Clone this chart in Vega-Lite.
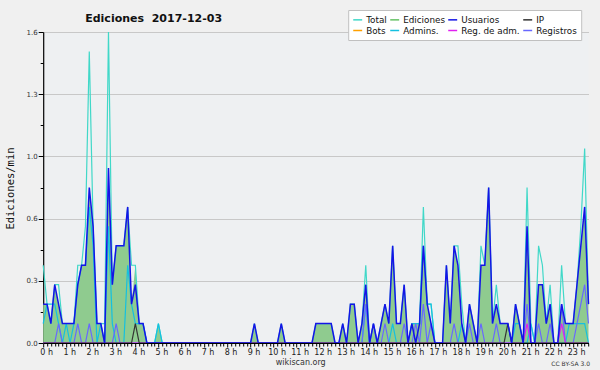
{
  "$schema": "https://vega.github.io/schema/vega-lite/v6.json",
  "width": 545.3,
  "height": 311,
  "autosize": {"type": "none"},
  "padding": {"left": 43.2, "top": 32, "right": 11.5, "bottom": 27},
  "background": "#f0f0f0",
  "config": {"view": {"fill": "#eef0f2", "stroke": null}, "font": "DejaVu Sans"},
  "title": {"text": "Ediciones\u00a0 2017-12-03", "anchor": "start", "frame": "group", "dx": 42, "offset": 0, "dy": 23, "baseline": "alphabetic", "font": "DejaVu Sans", "fontSize": 11, "fontWeight": "bold", "color": "#111111"},
  "data": {"values": [
    {"m":0,"T":0.4,"E":0.2,"U":0.2,"A":0.1,"R":0,"IP":0,"RA":0},
    {"m":10,"T":0.2,"E":0.2,"U":0.2,"A":0.2,"R":0,"IP":0,"RA":0},
    {"m":20,"T":0.1,"E":0.1,"U":0.1,"A":0.2,"R":0,"IP":0,"RA":0},
    {"m":30,"T":0.3,"E":0.3,"U":0.3,"A":0.2,"R":0,"IP":0,"RA":0},
    {"m":40,"T":0.3,"E":0.2,"U":0.2,"A":0.1,"R":0.1,"IP":0,"RA":0},
    {"m":50,"T":0.1,"E":0.1,"U":0.1,"A":0,"R":0,"IP":0,"RA":0},
    {"m":60,"T":0.1,"E":0.1,"U":0.1,"A":0.1,"R":0,"IP":0,"RA":0},
    {"m":70,"T":0.1,"E":0.1,"U":0.1,"A":0,"R":0,"IP":0,"RA":0},
    {"m":80,"T":0.1,"E":0.1,"U":0.1,"A":0.1,"R":0,"IP":0,"RA":0},
    {"m":90,"T":0.4,"E":0.3,"U":0.3,"A":0.3,"R":0.1,"IP":0,"RA":0},
    {"m":100,"T":0.4,"E":0.4,"U":0.4,"A":0.4,"R":0,"IP":0,"RA":0},
    {"m":110,"T":0.6,"E":0.4,"U":0.4,"A":0.4,"R":0,"IP":0,"RA":0},
    {"m":120,"T":1.5,"E":0.8,"U":0.8,"A":0.7,"R":0.1,"IP":0,"RA":0},
    {"m":130,"T":0.6,"E":0.6,"U":0.6,"A":0.5,"R":0,"IP":0,"RA":0},
    {"m":140,"T":0.1,"E":0.1,"U":0.1,"A":0,"R":0,"IP":0,"RA":0},
    {"m":150,"T":0.1,"E":0.1,"U":0.1,"A":0.1,"R":0,"IP":0,"RA":0},
    {"m":160,"T":0.1,"E":0,"U":0,"A":0,"R":0,"IP":0,"RA":0},
    {"m":170,"T":1.6,"E":0.9,"U":0.9,"A":0.6,"R":0,"IP":0,"RA":0},
    {"m":180,"T":0.3,"E":0.3,"U":0.3,"A":0.1,"R":0,"IP":0,"RA":0},
    {"m":190,"T":0.5,"E":0.5,"U":0.5,"A":0,"R":0.1,"IP":0,"RA":0},
    {"m":200,"T":0.5,"E":0.5,"U":0.5,"A":0,"R":0,"IP":0,"RA":0},
    {"m":210,"T":0.5,"E":0.5,"U":0.5,"A":0,"R":0,"IP":0,"RA":0},
    {"m":220,"T":0.7,"E":0.7,"U":0.7,"A":0.4,"R":0,"IP":0,"RA":0},
    {"m":230,"T":0.4,"E":0.2,"U":0.2,"A":0.2,"R":0,"IP":0,"RA":0},
    {"m":240,"T":0.4,"E":0.4,"U":0.3,"A":0.1,"R":0,"IP":0.1,"RA":0},
    {"m":250,"T":0.1,"E":0.1,"U":0.1,"A":0.1,"R":0,"IP":0,"RA":0},
    {"m":260,"T":0.1,"E":0.1,"U":0.1,"A":0.1,"R":0,"IP":0,"RA":0},
    {"m":270,"T":0,"E":0,"U":0,"A":0,"R":0,"IP":0,"RA":0},
    {"m":280,"T":0,"E":0,"U":0,"A":0,"R":0,"IP":0,"RA":0},
    {"m":290,"T":0,"E":0,"U":0,"A":0,"R":0,"IP":0,"RA":0},
    {"m":300,"T":0.1,"E":0.1,"U":0,"A":0.1,"R":0,"IP":0,"RA":0},
    {"m":310,"T":0,"E":0,"U":0,"A":0,"R":0,"IP":0,"RA":0},
    {"m":320,"T":0,"E":0,"U":0,"A":0,"R":0,"IP":0,"RA":0},
    {"m":330,"T":0,"E":0,"U":0,"A":0,"R":0,"IP":0,"RA":0},
    {"m":340,"T":0,"E":0,"U":0,"A":0,"R":0,"IP":0,"RA":0},
    {"m":350,"T":0,"E":0,"U":0,"A":0,"R":0,"IP":0,"RA":0},
    {"m":360,"T":0,"E":0,"U":0,"A":0,"R":0,"IP":0,"RA":0},
    {"m":370,"T":0,"E":0,"U":0,"A":0,"R":0,"IP":0,"RA":0},
    {"m":380,"T":0,"E":0,"U":0,"A":0,"R":0,"IP":0,"RA":0},
    {"m":390,"T":0,"E":0,"U":0,"A":0,"R":0,"IP":0,"RA":0},
    {"m":400,"T":0,"E":0,"U":0,"A":0,"R":0,"IP":0,"RA":0},
    {"m":410,"T":0,"E":0,"U":0,"A":0,"R":0,"IP":0,"RA":0},
    {"m":420,"T":0,"E":0,"U":0,"A":0,"R":0,"IP":0,"RA":0},
    {"m":430,"T":0,"E":0,"U":0,"A":0,"R":0,"IP":0,"RA":0},
    {"m":440,"T":0,"E":0,"U":0,"A":0,"R":0,"IP":0,"RA":0},
    {"m":450,"T":0,"E":0,"U":0,"A":0,"R":0,"IP":0,"RA":0},
    {"m":460,"T":0,"E":0,"U":0,"A":0,"R":0,"IP":0,"RA":0},
    {"m":470,"T":0,"E":0,"U":0,"A":0,"R":0,"IP":0,"RA":0},
    {"m":480,"T":0,"E":0,"U":0,"A":0,"R":0,"IP":0,"RA":0},
    {"m":490,"T":0,"E":0,"U":0,"A":0,"R":0,"IP":0,"RA":0},
    {"m":500,"T":0,"E":0,"U":0,"A":0,"R":0,"IP":0,"RA":0},
    {"m":510,"T":0,"E":0,"U":0,"A":0,"R":0,"IP":0,"RA":0},
    {"m":520,"T":0,"E":0,"U":0,"A":0,"R":0,"IP":0,"RA":0},
    {"m":530,"T":0,"E":0,"U":0,"A":0,"R":0,"IP":0,"RA":0},
    {"m":540,"T":0,"E":0,"U":0,"A":0,"R":0,"IP":0,"RA":0},
    {"m":550,"T":0.1,"E":0.1,"U":0.1,"A":0,"R":0,"IP":0,"RA":0},
    {"m":560,"T":0,"E":0,"U":0,"A":0,"R":0,"IP":0,"RA":0},
    {"m":570,"T":0,"E":0,"U":0,"A":0,"R":0,"IP":0,"RA":0},
    {"m":580,"T":0,"E":0,"U":0,"A":0,"R":0,"IP":0,"RA":0},
    {"m":590,"T":0,"E":0,"U":0,"A":0,"R":0,"IP":0,"RA":0},
    {"m":600,"T":0,"E":0,"U":0,"A":0,"R":0,"IP":0,"RA":0},
    {"m":610,"T":0,"E":0,"U":0,"A":0,"R":0,"IP":0,"RA":0},
    {"m":620,"T":0.1,"E":0.1,"U":0.1,"A":0,"R":0,"IP":0,"RA":0},
    {"m":630,"T":0,"E":0,"U":0,"A":0,"R":0,"IP":0,"RA":0},
    {"m":640,"T":0,"E":0,"U":0,"A":0,"R":0,"IP":0,"RA":0},
    {"m":650,"T":0,"E":0,"U":0,"A":0,"R":0,"IP":0,"RA":0},
    {"m":660,"T":0,"E":0,"U":0,"A":0,"R":0,"IP":0,"RA":0},
    {"m":670,"T":0,"E":0,"U":0,"A":0,"R":0,"IP":0,"RA":0},
    {"m":680,"T":0,"E":0,"U":0,"A":0,"R":0,"IP":0,"RA":0},
    {"m":690,"T":0,"E":0,"U":0,"A":0,"R":0,"IP":0,"RA":0},
    {"m":700,"T":0,"E":0,"U":0,"A":0,"R":0,"IP":0,"RA":0},
    {"m":710,"T":0.1,"E":0.1,"U":0.1,"A":0,"R":0,"IP":0,"RA":0},
    {"m":720,"T":0.1,"E":0.1,"U":0.1,"A":0,"R":0,"IP":0,"RA":0},
    {"m":730,"T":0.1,"E":0.1,"U":0.1,"A":0,"R":0,"IP":0,"RA":0},
    {"m":740,"T":0.1,"E":0.1,"U":0.1,"A":0,"R":0,"IP":0,"RA":0},
    {"m":750,"T":0.1,"E":0.1,"U":0.1,"A":0,"R":0,"IP":0,"RA":0},
    {"m":760,"T":0,"E":0,"U":0,"A":0,"R":0,"IP":0,"RA":0},
    {"m":770,"T":0,"E":0,"U":0,"A":0,"R":0,"IP":0,"RA":0},
    {"m":780,"T":0.1,"E":0.1,"U":0.1,"A":0,"R":0,"IP":0,"RA":0},
    {"m":790,"T":0,"E":0,"U":0,"A":0,"R":0,"IP":0,"RA":0},
    {"m":800,"T":0.2,"E":0.2,"U":0.2,"A":0,"R":0,"IP":0,"RA":0},
    {"m":810,"T":0.2,"E":0.2,"U":0.2,"A":0,"R":0,"IP":0,"RA":0},
    {"m":820,"T":0,"E":0,"U":0,"A":0,"R":0,"IP":0,"RA":0},
    {"m":830,"T":0.1,"E":0.1,"U":0.1,"A":0,"R":0,"IP":0,"RA":0},
    {"m":840,"T":0.4,"E":0.3,"U":0.3,"A":0.2,"R":0.2,"IP":0,"RA":0},
    {"m":850,"T":0,"E":0,"U":0,"A":0,"R":0,"IP":0,"RA":0},
    {"m":860,"T":0.1,"E":0.1,"U":0.1,"A":0,"R":0.1,"IP":0,"RA":0},
    {"m":870,"T":0,"E":0,"U":0,"A":0,"R":0,"IP":0,"RA":0},
    {"m":880,"T":0.1,"E":0.1,"U":0.1,"A":0,"R":0,"IP":0,"RA":0},
    {"m":890,"T":0.2,"E":0.2,"U":0.2,"A":0,"R":0.1,"IP":0,"RA":0},
    {"m":900,"T":0.1,"E":0.1,"U":0.1,"A":0,"R":0,"IP":0,"RA":0},
    {"m":910,"T":0.5,"E":0.5,"U":0.5,"A":0.1,"R":0,"IP":0,"RA":0},
    {"m":920,"T":0.1,"E":0.1,"U":0.1,"A":0,"R":0,"IP":0,"RA":0},
    {"m":930,"T":0.1,"E":0.1,"U":0.1,"A":0,"R":0,"IP":0,"RA":0},
    {"m":940,"T":0.3,"E":0.3,"U":0.3,"A":0,"R":0.1,"IP":0,"RA":0},
    {"m":950,"T":0,"E":0,"U":0,"A":0,"R":0,"IP":0,"RA":0},
    {"m":960,"T":0.1,"E":0.1,"U":0.1,"A":0.1,"R":0,"IP":0,"RA":0},
    {"m":970,"T":0.1,"E":0.1,"U":0,"A":0.1,"R":0.1,"IP":0,"RA":0},
    {"m":980,"T":0.1,"E":0.1,"U":0.1,"A":0.1,"R":0,"IP":0,"RA":0},
    {"m":990,"T":0.7,"E":0.5,"U":0.5,"A":0.5,"R":0.2,"IP":0,"RA":0},
    {"m":1000,"T":0.2,"E":0.2,"U":0.2,"A":0.2,"R":0,"IP":0,"RA":0},
    {"m":1010,"T":0.2,"E":0.1,"U":0.1,"A":0.2,"R":0.1,"IP":0,"RA":0},
    {"m":1020,"T":0,"E":0,"U":0,"A":0,"R":0,"IP":0,"RA":0},
    {"m":1030,"T":0,"E":0,"U":0,"A":0,"R":0,"IP":0,"RA":0},
    {"m":1040,"T":0,"E":0,"U":0,"A":0,"R":0,"IP":0,"RA":0},
    {"m":1050,"T":0.4,"E":0.4,"U":0.4,"A":0,"R":0,"IP":0,"RA":0},
    {"m":1060,"T":0.1,"E":0.1,"U":0.1,"A":0,"R":0,"IP":0,"RA":0},
    {"m":1070,"T":0.5,"E":0.5,"U":0.5,"A":0,"R":0.1,"IP":0,"RA":0},
    {"m":1080,"T":0.5,"E":0.4,"U":0.4,"A":0,"R":0,"IP":0,"RA":0},
    {"m":1090,"T":0.2,"E":0.1,"U":0.1,"A":0.1,"R":0,"IP":0,"RA":0},
    {"m":1100,"T":0,"E":0,"U":0,"A":0,"R":0,"IP":0,"RA":0},
    {"m":1110,"T":0.2,"E":0.2,"U":0.2,"A":0,"R":0.1,"IP":0,"RA":0},
    {"m":1120,"T":0.1,"E":0.1,"U":0.1,"A":0,"R":0,"IP":0,"RA":0},
    {"m":1130,"T":0,"E":0,"U":0,"A":0,"R":0,"IP":0,"RA":0},
    {"m":1140,"T":0.5,"E":0.4,"U":0.4,"A":0,"R":0.1,"IP":0,"RA":0},
    {"m":1150,"T":0.4,"E":0.4,"U":0.4,"A":0,"R":0,"IP":0,"RA":0},
    {"m":1160,"T":0.8,"E":0.8,"U":0.8,"A":0,"R":0,"IP":0,"RA":0},
    {"m":1170,"T":0.1,"E":0.1,"U":0.1,"A":0,"R":0,"IP":0,"RA":0},
    {"m":1180,"T":0.3,"E":0.2,"U":0.2,"A":0,"R":0.1,"IP":0,"RA":0},
    {"m":1190,"T":0.1,"E":0.1,"U":0.1,"A":0,"R":0,"IP":0,"RA":0},
    {"m":1200,"T":0.1,"E":0.1,"U":0.1,"A":0,"R":0,"IP":0,"RA":0},
    {"m":1210,"T":0.1,"E":0.1,"U":0.1,"A":0,"R":0,"IP":0.1,"RA":0},
    {"m":1220,"T":0,"E":0,"U":0,"A":0,"R":0,"IP":0,"RA":0},
    {"m":1230,"T":0.2,"E":0.2,"U":0.2,"A":0.1,"R":0,"IP":0,"RA":0},
    {"m":1240,"T":0.1,"E":0.1,"U":0.1,"A":0.1,"R":0,"IP":0,"RA":0},
    {"m":1250,"T":0,"E":0,"U":0,"A":0,"R":0,"IP":0,"RA":0},
    {"m":1260,"T":0.8,"E":0.6,"U":0.6,"A":0,"R":0.2,"IP":0,"RA":0.1},
    {"m":1270,"T":0.1,"E":0,"U":0,"A":0.1,"R":0,"IP":0,"RA":0},
    {"m":1280,"T":0,"E":0,"U":0,"A":0,"R":0,"IP":0,"RA":0},
    {"m":1290,"T":0.5,"E":0.3,"U":0.3,"A":0,"R":0.1,"IP":0,"RA":0},
    {"m":1300,"T":0.4,"E":0.3,"U":0.3,"A":0,"R":0,"IP":0,"RA":0},
    {"m":1310,"T":0.1,"E":0.1,"U":0.1,"A":0,"R":0,"IP":0,"RA":0},
    {"m":1320,"T":0.3,"E":0.2,"U":0.2,"A":0,"R":0.1,"IP":0,"RA":0},
    {"m":1330,"T":0,"E":0,"U":0,"A":0,"R":0,"IP":0,"RA":0},
    {"m":1340,"T":0,"E":0,"U":0,"A":0,"R":0,"IP":0,"RA":0},
    {"m":1350,"T":0.4,"E":0.2,"U":0.2,"A":0,"R":0.2,"IP":0,"RA":0.1},
    {"m":1360,"T":0.1,"E":0.1,"U":0.1,"A":0,"R":0,"IP":0,"RA":0},
    {"m":1370,"T":0.1,"E":0.1,"U":0.1,"A":0.1,"R":0,"IP":0,"RA":0},
    {"m":1380,"T":0.1,"E":0.1,"U":0.1,"A":0.1,"R":0,"IP":0,"RA":0},
    {"m":1390,"T":0.3,"E":0.3,"U":0.3,"A":0.1,"R":0.1,"IP":0,"RA":0},
    {"m":1400,"T":0.6,"E":0.5,"U":0.5,"A":0.1,"R":0.2,"IP":0,"RA":0},
    {"m":1410,"T":1.0,"E":0.7,"U":0.7,"A":0.1,"R":0.3,"IP":0,"RA":0},
    {"m":1420,"T":0.2,"E":0.2,"U":0.2,"A":0,"R":0.1,"IP":0,"RA":0}
  ]},
  "resolve": {"axis": {"x": "independent", "y": "independent"}},
  "layer": [
    {
      "mark": {"type": "area", "color": "#8fcb8f", "opacity": 1},
      "encoding": {
        "x": {"field": "m", "type": "quantitative",
          "scale": {"domain": [0, 1420], "nice": false, "zero": false},
          "axis": {"title": null, "orient": "bottom",
            "tickCount": 142, "labelExpr": "datum.value % 60 === 0 ? (datum.value / 60) + ' h' : ''", "labelOverlap": false, "labelFlush": false, "labelBound": false,
            "labelFont": "DejaVu Sans", "labelFontSize": 8, "labelColor": "#222222", "labelPadding": 1, "labelOffset": 3,
            "tickSize": {"condition": {"test": "datum.value % 60 === 0", "value": 4}, "value": 3}, "tickColor": "#000000", "tickWidth": 1,
            "domainColor": "#000000", "domainWidth": 1.2, "grid": false, "zindex": 1}},
        "y": {"field": "E", "type": "quantitative",
          "scale": {"domain": [0, 1.6], "nice": false},
          "axis": {"title": "Ediciones/min", "titleFont": "DejaVu Sans Mono", "titleFontSize": 10.5, "titleFontWeight": "normal", "titleColor": "#111111", "titleX": -33, "titleY": 156, "titleBaseline": "middle",
            "values": [0, 0.16, 0.32, 0.48, 0.64, 0.8, 0.96, 1.12, 1.28, 1.44, 1.6],
            "labelExpr": "round(datum.value * 100) % 32 === 0 ? format(datum.value, '.1f') : ''",
            "labelFont": "DejaVu Sans", "labelFontSize": 7, "labelColor": "#333333", "labelPadding": 1,
            "tickSize": {"condition": {"test": "round(datum.value * 100) % 32 === 0", "value": 5}, "value": 3}, "tickColor": "#000000",
            "domainColor": "#000000", "domainWidth": 1.2,
            "grid": true, "gridColor": "#c8c8c8", "gridOpacity": {"condition": {"test": "round(datum.value * 100) % 32 === 0", "value": 1}, "value": 0}, "zindex": 0}}
      }
    },
    {
      "mark": {"type": "line", "strokeWidth": 1.2},
      "encoding": {
        "x": {"field": "m", "type": "quantitative", "axis": null},
        "y": {"field": "T", "type": "quantitative", "axis": null},
        "color": {"datum": "Total",
          "scale": {"domain": ["Total", "Ediciones", "Usuarios", "IP", "Bots", "Admins.", "Reg. de adm.", "Registros"],
                    "range": ["#40d8c8", "#66c266", "#1414e6", "#333333", "#ffa000", "#14c0e0", "#e020f0", "#6868ff"]},
          "legend": {"title": null, "orient": "none", "legendX": 305, "legendY": -22, "columns": 4, "direction": "horizontal", "gridAlign": "each",
            "symbolType": "stroke", "symbolSize": 80, "symbolStrokeWidth": 1.5,
            "labelFont": "DejaVu Sans", "labelFontSize": 8.8, "labelColor": "#111111", "labelOffset": 3,
            "columnPadding": 0, "rowPadding": 0, "padding": 4, "fillColor": "#ffffff", "strokeColor": "#c0c0c0"}}
      }
    },
    {
      "mark": {"type": "line", "strokeWidth": 1.2},
      "encoding": {
        "x": {"field": "m", "type": "quantitative", "axis": null},
        "y": {"field": "A", "type": "quantitative", "axis": null},
        "color": {"datum": "Admins."}
      }
    },
    {
      "mark": {"type": "line", "strokeWidth": 1.2},
      "encoding": {
        "x": {"field": "m", "type": "quantitative", "axis": null},
        "y": {"field": "R", "type": "quantitative",
          "axis": {"orient": "right", "title": "CC BY-SA 3.0", "titleAngle": 0, "titleAlign": "right", "titleBaseline": "alphabetic", "titleX": 1, "titleY": 333, "titleFont": "DejaVu Sans", "titleFontSize": 6, "titleFontWeight": "normal", "titleColor": "#333333", "labels": false, "ticks": false, "domain": false, "grid": false}},
        "color": {"datum": "Registros"}
      }
    },
    {
      "mark": {"type": "line", "strokeWidth": 1.2},
      "encoding": {
        "x": {"field": "m", "type": "quantitative", "axis": null},
        "y": {"field": "RA", "type": "quantitative", "axis": null},
        "color": {"datum": "Reg. de adm."}
      }
    },
    {
      "mark": {"type": "line", "strokeWidth": 1.2},
      "encoding": {
        "x": {"field": "m", "type": "quantitative",
          "axis": {"orient": "top", "title": "wikiscan.org", "titleX": 257, "titleY": 332, "titleAlign": "center", "titleBaseline": "alphabetic", "titleFont": "DejaVu Sans", "titleFontSize": 8, "titleFontWeight": "normal", "titleColor": "#333333", "labels": false, "ticks": false, "domain": false, "grid": false}},
        "y": {"field": "IP", "type": "quantitative", "axis": null},
        "color": {"datum": "IP"}
      }
    },
    {
      "mark": {"type": "line", "strokeWidth": 1.5},
      "encoding": {
        "x": {"field": "m", "type": "quantitative", "axis": null},
        "y": {"field": "U", "type": "quantitative", "axis": null},
        "color": {"datum": "Usuarios"}
      }
    }
  ]
}
